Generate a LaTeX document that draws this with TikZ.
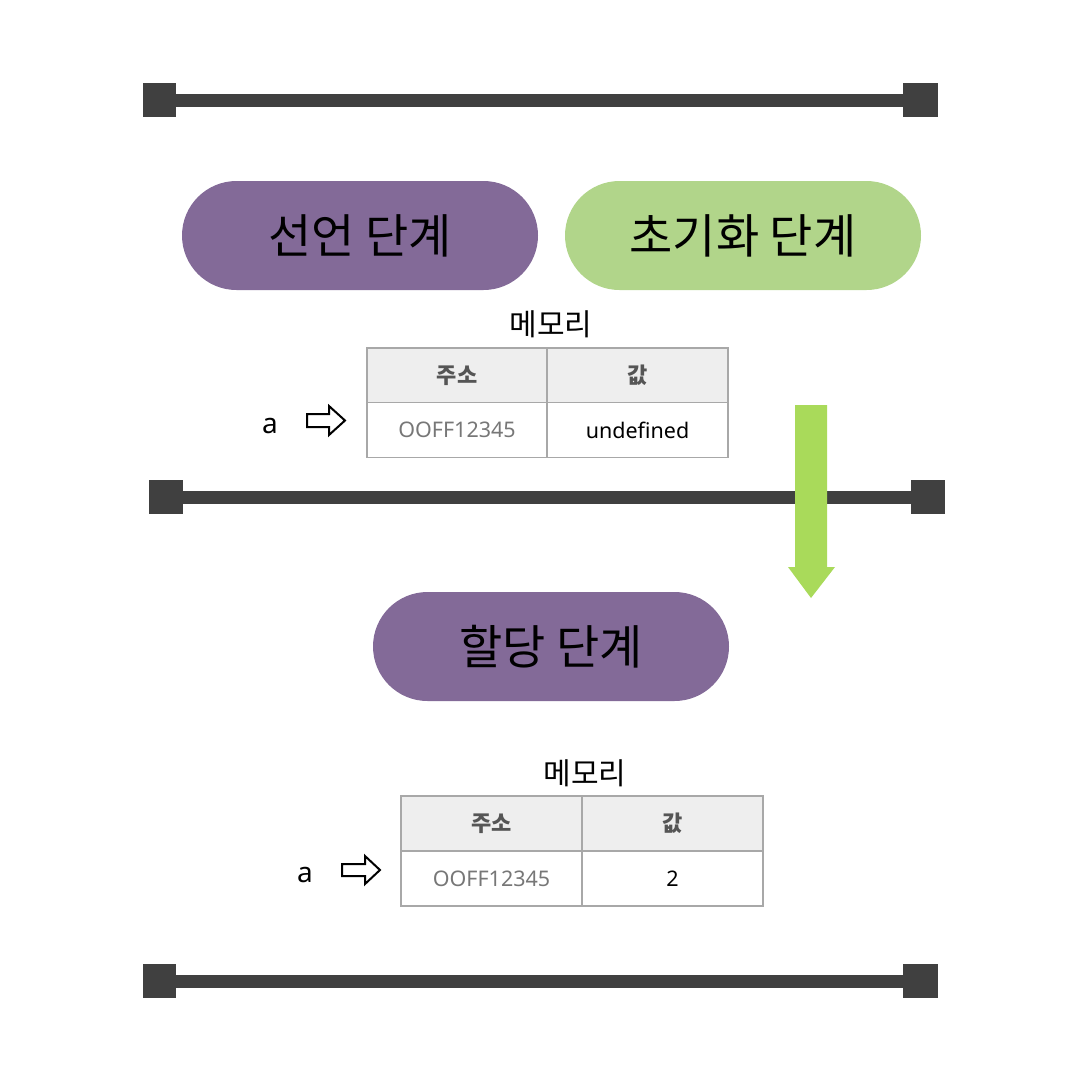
\documentclass[tikz,border=0pt]{standalone}
\usepackage{fontspec}
\setmainfont{Noto Sans}
\newfontfamily\kr{Noto Sans CJK KR}
\usetikzlibrary{shapes.misc}
\definecolor{barc}{HTML}{404040}
\definecolor{purp}{HTML}{836A98}
\definecolor{pgreen}{HTML}{B1D58A}
\definecolor{agreen}{HTML}{A9DA5A}
\definecolor{gridc}{HTML}{A8A8A8}
\definecolor{headc}{HTML}{EEEEEE}
\definecolor{headt}{HTML}{555555}
\definecolor{addrt}{HTML}{777777}
\tikzset{
  pill/.style={rounded rectangle, minimum width=356pt, minimum height=109pt, inner sep=0pt,
    font=\kr\fontsize{47}{52}\selectfont, text=black},
  hcell/.style={draw=gridc, line width=1.3pt, fill=headc, minimum height=55pt, inner sep=0pt,
    font=\kr\bfseries\fontsize{22}{26}\selectfont, text=headt},
  vcell/.style={draw=gridc, line width=1.3pt, fill=white, minimum height=55pt, inner sep=0pt,
    font=\fontsize{21.5}{24}\selectfont},
  memlabel/.style={font=\kr\fontsize{30}{34}\selectfont, inner sep=0pt},
  varlabel/.style={font=\fontsize{28}{32}\selectfont, inner sep=0pt},
  pointer/.style={draw=black, line width=2pt, fill=white, line join=miter},
  barfill/.style={fill=barc}
}
\begin{document}
\begin{tikzpicture}[x=1pt,y=-1pt]
\useasboundingbox (0,0) rectangle (1080,1080);
% separator bars
\fill[barfill] (176,94) rectangle (903,107);
\fill[barfill] (143,83) rectangle (176,117);
\fill[barfill] (903,83) rectangle (938,117);
\fill[barfill] (183,491) rectangle (911,504);
\fill[barfill] (149,480) rectangle (183,514);
\fill[barfill] (911,480) rectangle (945,514);
\fill[barfill] (176,975) rectangle (903,988);
\fill[barfill] (143,964) rectangle (176,998);
\fill[barfill] (903,964) rectangle (938,998);
% pills
\node[pill, fill=purp] (decl) at (360,235.5) {선언 단계};
\node[pill, fill=pgreen] (init) at (743,235.5) {초기화 단계};
\node[pill, fill=purp] (assign) at (551,646.5) {할당 단계};
% memory table 1
\node[memlabel] (mem1) at (551,324) {메모리};
\node[hcell, minimum width=180pt] (h1a) at (457,375.5) {주소};
\node[hcell, minimum width=181pt] (h1b) at (637.5,375.5) {값};
\node[vcell, minimum width=180pt, text=addrt] (v1a) at (457,430) {OOFF12345};
\node[vcell, minimum width=181pt, text=black] (v1b) at (637.5,430) {undefined};
\node[varlabel] (var1) at (270,426) {a};
\draw[pointer] (307,414) -- (329,414) -- (329,406) -- (345,420.5) -- (329,435) -- (329,427) -- (307,427) -- cycle;
% memory table 2
\node[memlabel] (mem2) at (585,773) {메모리};
\node[hcell, minimum width=181pt] (h2a) at (491.5,823.5) {주소};
\node[hcell, minimum width=181pt] (h2b) at (672.5,823.5) {값};
\node[vcell, minimum width=181pt, text=addrt] (v2a) at (491.5,878.5) {OOFF12345};
\node[vcell, minimum width=181pt, text=black] (v2b) at (672.5,878.5) {2};
\node[varlabel] (var2) at (305,875) {a};
\draw[pointer] (342,864) -- (365,864) -- (365,856) -- (380,870) -- (365,884) -- (365,876) -- (342,876) -- cycle;
% green down arrow
\fill[agreen] (795,405) -- (827,405) -- (827,567) -- (835,567) -- (811,598) -- (788,567) -- (795,567) -- cycle;
\end{tikzpicture}
\end{document}
